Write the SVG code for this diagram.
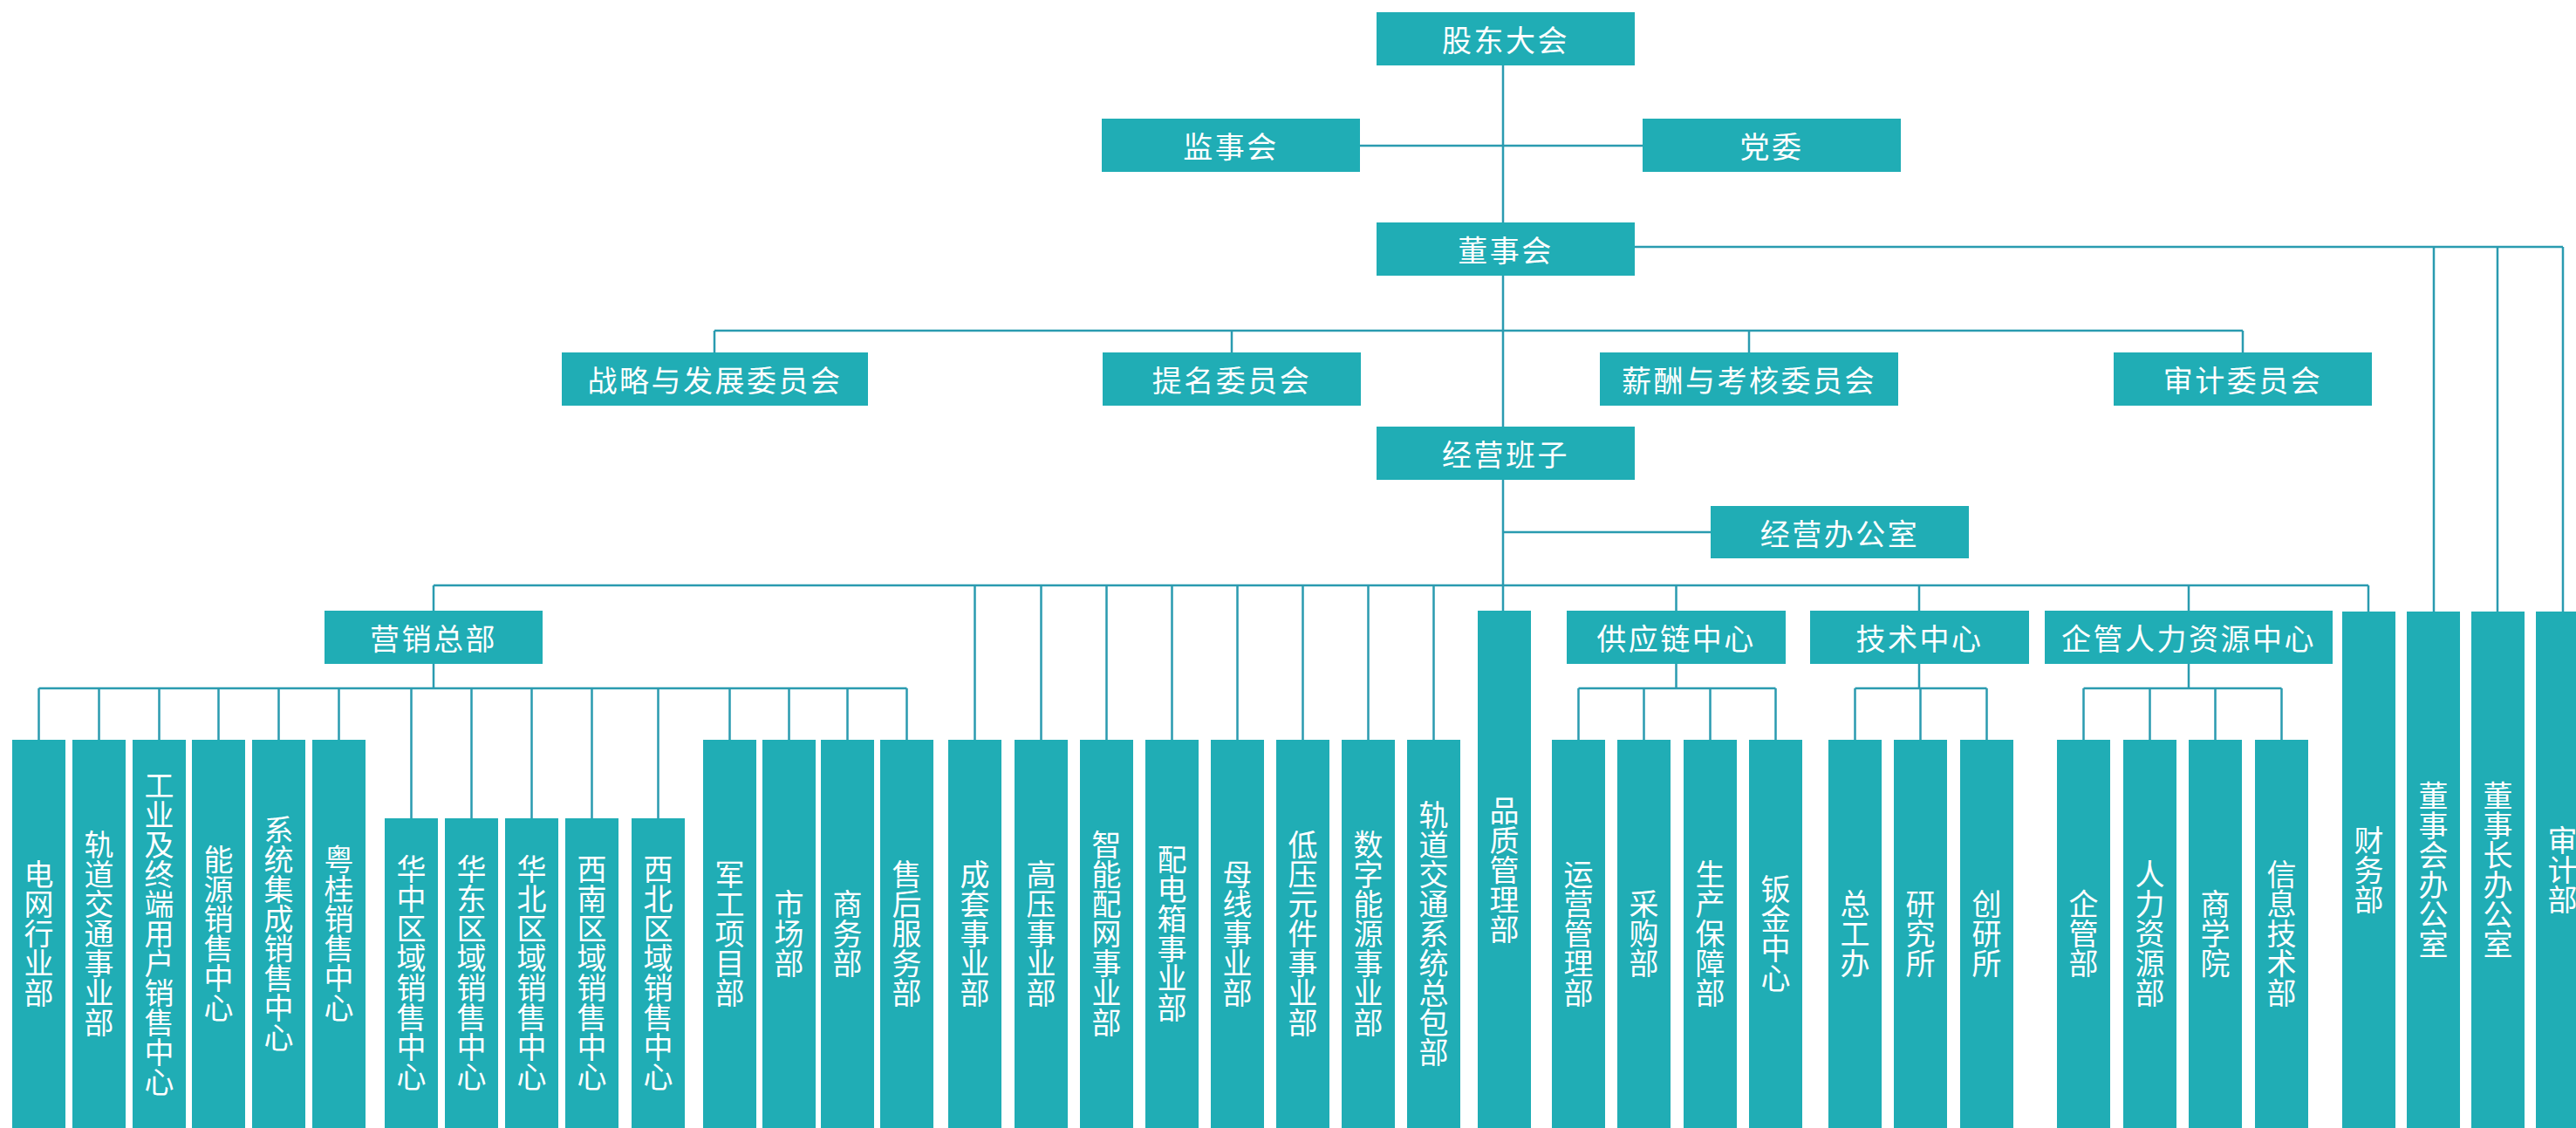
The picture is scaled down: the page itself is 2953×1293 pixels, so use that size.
<svg xmlns="http://www.w3.org/2000/svg" width="2953" height="1293" viewBox="0 0 2953 1293">
<style>
.b{fill:#20adb5}
.c{stroke:#2a9bb0;stroke-width:2.5;fill:none}
text{font-family:"Noto Sans CJK SC","Noto Sans",sans-serif;font-size:34px;fill:#fff;text-anchor:middle}
.h{dominant-baseline:central;letter-spacing:2.5px}
.v{writing-mode:vertical-rl;dominant-baseline:central}
</style>
<rect width="2953" height="1293" fill="#fff"/>
<g id="connectors" class="c">
<path d="M1723 75V700"/>
<path d="M1559 167H1883"/>
<path d="M819 379H2571M819 379V404M1412 379V404M2005 379V404M2571 379V404"/>
<path d="M1874 283H2938M2790 283V701M2863 283V701M2938 283V701"/>
<path d="M1723 610H1961"/>
<path d="M497 671H2715M497 671V700M1117.5 671V848M1193.5 671V848M1268.5 671V848M1343.5 671V848M1418.5 671V848M1493.5 671V848M1568.5 671V848M1643.5 671V848M1921.5 671V700M2200 671V700M2509 671V700M2715 671V701"/>
<path d="M497 761V789M44.5 789H1039.5M44.5 789V848M113.5 789V848M182.5 789V848M250.5 789V848M319.5 789V848M388.5 789V848M471.5 789V938M540.5 789V938M609.5 789V938M678.5 789V938M754.5 789V938M836.5 789V848M904.5 789V848M971.5 789V848M1039.5 789V848"/>
<path d="M1921.5 761V789M1809.5 789H2035.5M1809.5 789V848M1884.5 789V848M1960.5 789V848M2035.5 789V848"/>
<path d="M2200 761V789M2126.5 789H2277.5M2126.5 789V848M2201.5 789V848M2277.5 789V848"/>
<path d="M2509 761V789M2388.5 789H2615.5M2388.5 789V848M2464.5 789V848M2539.5 789V848M2615.5 789V848"/>
</g>
<g id="n-gudong"><rect class="b" x="1578" y="14" width="296" height="61"/><text class="h" x="1726" y="44.5">股东大会</text></g>
<g id="n-jianshi"><rect class="b" x="1263" y="136" width="296" height="61"/><text class="h" x="1411" y="166.5">监事会</text></g>
<g id="n-dangwei"><rect class="b" x="1883" y="136" width="296" height="61"/><text class="h" x="2031" y="166.5">党委</text></g>
<g id="n-dongshi"><rect class="b" x="1578" y="255" width="296" height="61"/><text class="h" x="1726" y="285.5">董事会</text></g>
<g id="n-zhanlue"><rect class="b" x="644" y="404" width="351" height="61"/><text class="h" x="819.5" y="434.5">战略与发展委员会</text></g>
<g id="n-timing"><rect class="b" x="1264" y="404" width="296" height="61"/><text class="h" x="1412" y="434.5">提名委员会</text></g>
<g id="n-xinchou"><rect class="b" x="1834" y="404" width="342" height="61"/><text class="h" x="2005" y="434.5">薪酬与考核委员会</text></g>
<g id="n-shenjiwei"><rect class="b" x="2423" y="404" width="296" height="61"/><text class="h" x="2571" y="434.5">审计委员会</text></g>
<g id="n-jingying"><rect class="b" x="1578" y="489" width="296" height="61"/><text class="h" x="1726" y="519.5">经营班子</text></g>
<g id="n-jyban"><rect class="b" x="1961" y="580" width="296" height="60"/><text class="h" x="2109" y="610">经营办公室</text></g>
<g id="n-yingxiao"><rect class="b" x="372" y="700" width="250" height="61"/><text class="h" x="497" y="730.5">营销总部</text></g>
<g id="n-gongying"><rect class="b" x="1796" y="700" width="251" height="61"/><text class="h" x="1921.5" y="730.5">供应链中心</text></g>
<g id="n-jishu"><rect class="b" x="2075" y="700" width="251" height="61"/><text class="h" x="2200.5" y="730.5">技术中心</text></g>
<g id="n-qiguan"><rect class="b" x="2344" y="700" width="330" height="61"/><text class="h" x="2509" y="730.5">企管人力资源中心</text></g>
<g id="n-s1"><rect class="b" x="14" y="848" width="61" height="445"/><text class="v" x="44.5" y="1070.5">电网行业部</text></g>
<g id="n-s2"><rect class="b" x="83" y="848" width="61" height="445"/><text class="v" x="113.5" y="1070.5">轨道交通事业部</text></g>
<g id="n-s3"><rect class="b" x="152" y="848" width="61" height="445"/><text class="v" x="182.5" y="1070.5">工业及终端用户销售中心</text></g>
<g id="n-s4"><rect class="b" x="220" y="848" width="61" height="445"/><text class="v" x="250.5" y="1070.5">能源销售中心</text></g>
<g id="n-s5"><rect class="b" x="289" y="848" width="61" height="445"/><text class="v" x="319.5" y="1070.5">系统集成销售中心</text></g>
<g id="n-s6"><rect class="b" x="358" y="848" width="61" height="445"/><text class="v" x="388.5" y="1070.5">粤桂销售中心</text></g>
<g id="n-s7"><rect class="b" x="441" y="938" width="61" height="355"/><text class="v" x="471.5" y="1115.5">华中区域销售中心</text></g>
<g id="n-s8"><rect class="b" x="510" y="938" width="61" height="355"/><text class="v" x="540.5" y="1115.5">华东区域销售中心</text></g>
<g id="n-s9"><rect class="b" x="579" y="938" width="61" height="355"/><text class="v" x="609.5" y="1115.5">华北区域销售中心</text></g>
<g id="n-s10"><rect class="b" x="648" y="938" width="61" height="355"/><text class="v" x="678.5" y="1115.5">西南区域销售中心</text></g>
<g id="n-s11"><rect class="b" x="724" y="938" width="61" height="355"/><text class="v" x="754.5" y="1115.5">西北区域销售中心</text></g>
<g id="n-s12"><rect class="b" x="806" y="848" width="61" height="445"/><text class="v" x="836.5" y="1070.5">军工项目部</text></g>
<g id="n-s13"><rect class="b" x="874" y="848" width="61" height="445"/><text class="v" x="904.5" y="1070.5">市场部</text></g>
<g id="n-s14"><rect class="b" x="941" y="848" width="61" height="445"/><text class="v" x="971.5" y="1070.5">商务部</text></g>
<g id="n-s15"><rect class="b" x="1009" y="848" width="61" height="445"/><text class="v" x="1039.5" y="1070.5">售后服务部</text></g>
<g id="n-d1"><rect class="b" x="1087" y="848" width="61" height="445"/><text class="v" x="1117.5" y="1070.5">成套事业部</text></g>
<g id="n-d2"><rect class="b" x="1163" y="848" width="61" height="445"/><text class="v" x="1193.5" y="1070.5">高压事业部</text></g>
<g id="n-d3"><rect class="b" x="1238" y="848" width="61" height="445"/><text class="v" x="1268.5" y="1070.5">智能配网事业部</text></g>
<g id="n-d4"><rect class="b" x="1313" y="848" width="61" height="445"/><text class="v" x="1343.5" y="1070.5">配电箱事业部</text></g>
<g id="n-d5"><rect class="b" x="1388" y="848" width="61" height="445"/><text class="v" x="1418.5" y="1070.5">母线事业部</text></g>
<g id="n-d6"><rect class="b" x="1463" y="848" width="61" height="445"/><text class="v" x="1493.5" y="1070.5">低压元件事业部</text></g>
<g id="n-d7"><rect class="b" x="1538" y="848" width="61" height="445"/><text class="v" x="1568.5" y="1070.5">数字能源事业部</text></g>
<g id="n-d8"><rect class="b" x="1613" y="848" width="61" height="445"/><text class="v" x="1643.5" y="1070.5">轨道交通系统总包部</text></g>
<g id="n-pinzhi"><rect class="b" x="1694" y="700" width="61" height="593"/><text class="v" x="1724.5" y="997">品质管理部</text></g>
<g id="n-g1"><rect class="b" x="1779" y="848" width="61" height="445"/><text class="v" x="1809.5" y="1070.5">运营管理部</text></g>
<g id="n-g2"><rect class="b" x="1854" y="848" width="61" height="445"/><text class="v" x="1884.5" y="1070.5">采购部</text></g>
<g id="n-g3"><rect class="b" x="1930" y="848" width="61" height="445"/><text class="v" x="1960.5" y="1070.5">生产保障部</text></g>
<g id="n-g4"><rect class="b" x="2005" y="848" width="61" height="445"/><text class="v" x="2035.5" y="1070.5">钣金中心</text></g>
<g id="n-j1"><rect class="b" x="2096" y="848" width="61" height="445"/><text class="v" x="2126.5" y="1070.5">总工办</text></g>
<g id="n-j2"><rect class="b" x="2171" y="848" width="61" height="445"/><text class="v" x="2201.5" y="1070.5">研究所</text></g>
<g id="n-j3"><rect class="b" x="2247" y="848" width="61" height="445"/><text class="v" x="2277.5" y="1070.5">创研所</text></g>
<g id="n-q1"><rect class="b" x="2358" y="848" width="61" height="445"/><text class="v" x="2388.5" y="1070.5">企管部</text></g>
<g id="n-q2"><rect class="b" x="2434" y="848" width="61" height="445"/><text class="v" x="2464.5" y="1070.5">人力资源部</text></g>
<g id="n-q3"><rect class="b" x="2509" y="848" width="61" height="445"/><text class="v" x="2539.5" y="1070.5">商学院</text></g>
<g id="n-q4"><rect class="b" x="2585" y="848" width="61" height="445"/><text class="v" x="2615.5" y="1070.5">信息技术部</text></g>
<g id="n-caiwu"><rect class="b" x="2685" y="701" width="61" height="592"/><text class="v" x="2715.5" y="997">财务部</text></g>
<g id="n-dshban"><rect class="b" x="2759" y="701" width="61" height="592"/><text class="v" x="2789.5" y="997">董事会办公室</text></g>
<g id="n-dszban"><rect class="b" x="2833" y="701" width="61" height="592"/><text class="v" x="2863.5" y="997">董事长办公室</text></g>
<g id="n-shenji"><rect class="b" x="2907" y="701" width="61" height="592"/><text class="v" x="2937.5" y="997">审计部</text></g>
</svg>
